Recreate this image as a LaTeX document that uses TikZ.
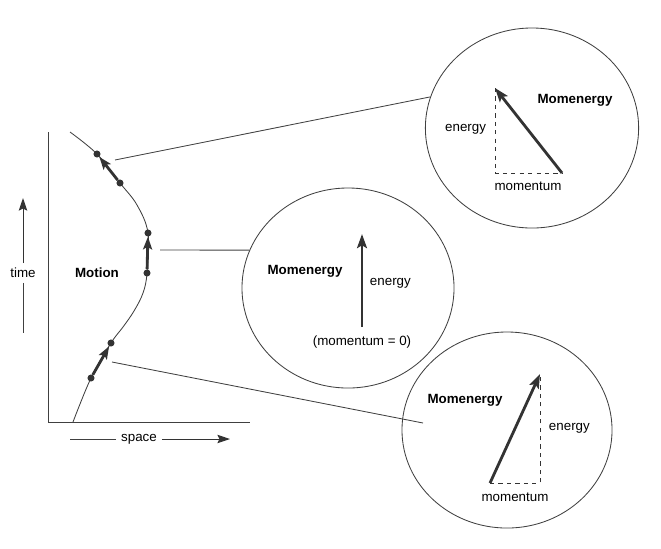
\documentclass[tikz,border=0pt]{standalone}
\usepackage{fontspec}
\setmainfont{Liberation Sans}
\usepackage{tikz}
\usetikzlibrary{positioning,arrows.meta,shapes.geometric}

\begin{document}
\begin{tikzpicture}[
    x=0.025cm, y=-0.025cm,
    font=\fontsize{9.5}{11}\selectfont,
    line/.style={draw=black!75, line width=0.6pt},
    bubble/.style={ellipse, draw=black!75, line width=0.6pt, inner sep=0pt},
    dot/.style={circle, fill=black!80, inner sep=0pt, minimum size=5pt},
    vec/.style={draw=black!80, line width=2pt, -{Stealth[length=10pt,width=7pt,inset=2pt]}},
    stepvec/.style={draw=black!80, line width=2pt, -{Stealth[length=9pt,width=6.5pt,inset=2pt]}},
    axisarrow/.style={draw=black!80, line width=0.7pt, -{Stealth[length=9pt,width=6pt,inset=1.5pt]}},
    comp/.style={draw=black!80, line width=0.6pt, dashed},
    title/.style={font=\fontsize{9.5}{11}\selectfont\bfseries}
]
\useasboundingbox (0,0) rectangle (661,548);

% Axes
\coordinate (origin) at (48,422);
\coordinate (top) at (48,132);
\coordinate (right) at (250,422);
\draw[line] (top) -- (origin) -- (right);

\node (time) at (23,273) {time};
\coordinate (timelow) at (23,333);
\coordinate (timehigh) at (23,198);
\draw[line] (time.south) -- (timelow);
\draw[axisarrow] (time.north) -- (timehigh);

\node (space) at (139,439) {space};
\coordinate (spaceleft) at (70,439);
\coordinate (spaceright) at (230,439);
\draw[line] (space.west) -- (spaceleft);
\draw[axisarrow] (space.east) -- (spaceright);

\node[title] (motion) at (97,273) {Motion};

% Worldline
\draw[line] plot[smooth, tension=0.6] coordinates {(73,422) (91,378) (111,343) (123,327) (134,311) (143,293) (147,273) (148,233) (137,205) (120,183) (97,154) (70,132)};

\node[dot] (d1) at (91,378) {};
\node[dot] (d2) at (111,343) {};
\node[dot] (d3) at (147,273) {};
\node[dot] (d4) at (148,233) {};
\node[dot] (d5) at (120,183) {};
\node[dot] (d6) at (97,154) {};

\draw[stepvec] (d1) -- (d2);
\draw[stepvec] (d3) -- (d4);
\draw[stepvec] (d5) -- (d6);

% Bubbles
\node[bubble, minimum width=5.33cm, minimum height=5cm] (topbubble) at (532,128) {};
\node[bubble, minimum width=5.3cm, minimum height=5cm] (midbubble) at (348,288) {};
\node[bubble, minimum width=5.25cm, minimum height=4.9cm] (lowbubble) at (507,430) {};

% Connectors
\coordinate (c1) at (115,160);
\coordinate (c2) at (160,250);
\coordinate (c3) at (112,362);
\coordinate (c3end) at (423,423);
\draw[line] (c1) -- (topbubble.163);
\draw[line] (c2) -- (midbubble.159);
\draw[line] (c3) -- (c3end);

% Top bubble
\coordinate (p1) at (562,173);
\coordinate (q1) at (495,88);
\coordinate (r1) at (495,173);
\draw[comp] (q1) -- (r1) -- (p1);
\draw[vec] (p1) -- (q1);
\node[title] (mom1) at (575,100) {Momenergy};
\node[anchor=east] (en1) at (491,129) {energy};
\node (mo1) at (528,186) {momentum};

% Middle bubble
\coordinate (p2) at (362,327);
\coordinate (q2) at (362,234);
\draw[vec] (p2) -- (q2);
\node[title] (mom2) at (305,271) {Momenergy};
\node[anchor=west] (en2) at (365,283) {energy};
\node (mo2) at (362,342) {(momentum = 0)};

% Lower bubble
\coordinate (p3) at (490,483);
\coordinate (q3) at (540,374);
\coordinate (r3) at (540,483);
\draw[comp] (p3) -- (r3) -- (q3);
\draw[vec] (p3) -- (q3);
\node[title] (mom3) at (465,400) {Momenergy};
\node[anchor=west] (en3) at (544,428) {energy};
\node (mo3) at (515,497) {momentum};

\end{tikzpicture}
\end{document}
